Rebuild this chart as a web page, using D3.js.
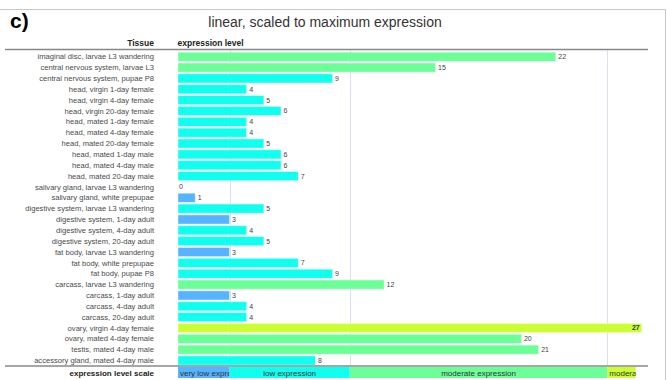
<!DOCTYPE html>
<html><head><meta charset="utf-8">
<script src="https://cdn.jsdelivr.net/npm/d3@7"></script>
<style>
body{margin:0;background:#fff;}
svg{font-family:"Liberation Sans",Arial,Helvetica,sans-serif;}
</style></head>
<body><svg id="c" width="667" height="380"></svg>
<script>
const tissues = [
 "imaginal disc, larvae L3 wandering","central nervous system, larvae L3","central nervous system, pupae P8",
 "head, virgin 1-day female","head, virgin 4-day female","head, virgin 20-day female",
 "head, mated 1-day female","head, mated 4-day female","head, mated 20-day female",
 "head, mated 1-day male","head, mated 4-day male","head, mated 20-day male",
 "salivary gland, larvae L3 wandering","salivary gland, white prepupae","digestive system, larvae L3 wandering",
 "digestive system, 1-day adult","digestive system, 4-day adult","digestive system, 20-day adult",
 "fat body, larvae L3 wandering","fat body, white prepupae","fat body, pupae P8",
 "carcass, larvae L3 wandering","carcass, 1-day adult","carcass, 4-day adult","carcass, 20-day adult",
 "ovary, virgin 4-day female","ovary, mated 4-day female","testis, mated 4-day male","accessory gland, mated 4-day male"];
const values = [22,15,9,4,5,6,4,4,5,6,6,7,0,1,5,3,4,5,3,7,9,12,3,4,4,27,20,21,8];
const levelNames = ["very low expression","low expression","moderate expression","moderately high expression"];
const levelBounds = [0,3,10,25,26.65];
const levelColors = ["#55b3ff","#11ffee","#6cff98","#ccff33"];
const maxValue = 27;

const svg = d3.select("#c");
// frame
svg.append("line").attr("x1",0).attr("x2",665.5).attr("y1",9.5).attr("y2",9.5).attr("stroke","#c8c8c8");
svg.append("line").attr("x1",665.5).attr("x2",665.5).attr("y1",9.5).attr("y2",380).attr("stroke","#c8c8c8");

svg.append("text").attr("x",10).attr("y",28).attr("font-size",21).attr("font-weight","bold").attr("fill","#000").text("c)");
svg.append("text").attr("x",325).attr("y",27).attr("text-anchor","middle").attr("font-size",14).attr("fill","#333")
  .text("linear, scaled to maximum expression");

const x = d3.scaleLinear().domain([0,maxValue]).range([178,641.7]);
const y = d3.scaleBand().domain(tissues).range([51.3,51.3+tissues.length*10.85]).paddingInner(0.16).paddingOuter(0.08);
const levelOf = v => { let i=0; while(i<levelBounds.length-2 && v>levelBounds[i+1]) i++; return i; };

// headers
svg.append("text").attr("x",154).attr("y",45.5).attr("text-anchor","end").attr("font-size",8.5).attr("font-weight","bold").attr("fill","#222").text("Tissue");
svg.append("text").attr("x",177.5).attr("y",45.5).attr("font-size",8.5).attr("font-weight","bold").attr("fill","#222").text("expression level");

// grid lines at level bounds
svg.append("g").selectAll("line").data(levelBounds.slice(1,4)).join("line")
  .attr("x1",d=>Math.round(x(d))+0.5).attr("x2",d=>Math.round(x(d))+0.5)
  .attr("y1",50).attr("y2",366).attr("stroke","#dcdcff").attr("stroke-width",1);

// row labels
svg.append("g").selectAll("text").data(tissues).join("text")
  .attr("x",154).attr("y",d=>y(d)+y.bandwidth()/2).attr("dy","0.35em")
  .attr("text-anchor","end").attr("font-size",7.6).attr("fill","#4a4a4a").text(d=>d);

// bars
const rows = tissues.map((t,i)=>({t,v:values[i]}));
svg.append("g").selectAll("rect").data(rows.filter(d=>d.v>0)).join("rect")
  .attr("x",x(0)).attr("y",d=>y(d.t)).attr("width",d=>x(d.v)-x(0)).attr("height",y.bandwidth())
  .attr("fill",d=>levelColors[levelOf(d.v)]).attr("stroke","#ffffff").attr("stroke-opacity",0.5).attr("stroke-width",0.8);

// value labels
svg.append("g").selectAll("text").data(rows).join("text")
  .attr("x",d=>d.v===maxValue ? x(d.v)-2 : (d.v===0 ? x(0)+1 : x(d.v)+2.5))
  .attr("y",d=>y(d.t)+y.bandwidth()/2).attr("dy","0.36em")
  .attr("text-anchor",d=>d.v===maxValue?"end":"start")
  .attr("font-size",7).attr("font-weight",d=>d.v===maxValue?"bold":"normal")
  .attr("fill",d=>d.v===maxValue?"#333":"#444").text(d=>d.v);

// header/footer lines
svg.append("line").attr("x1",5).attr("x2",648).attr("y1",49.5).attr("y2",49.5).attr("stroke","#888").attr("stroke-width",1.6);
svg.append("line").attr("x1",5).attr("x2",648).attr("y1",366).attr("y2",366).attr("stroke","#888").attr("stroke-width",1.6);

// scale
svg.append("text").attr("x",154).attr("y",376).attr("text-anchor","end").attr("font-size",8).attr("font-weight","bold").attr("fill","#222").text("expression level scale");
const defs = svg.append("defs");
const bands = levelNames.map((n,i)=>({n,i,x0:x(levelBounds[i]),x1:x(levelBounds[i+1])}));
bands.forEach(b=>defs.append("clipPath").attr("id","clip"+b.i).append("rect").attr("x",b.x0).attr("y",366).attr("width",b.x1-b.x0).attr("height",14));
const bg = svg.append("g").selectAll("g").data(bands).join("g");
bg.append("rect").attr("x",d=>d.x0).attr("y",367).attr("width",d=>d.x1-d.x0).attr("height",11).attr("fill",(d)=>levelColors[d.i]);
bg.append("text").attr("clip-path",d=>`url(#clip${d.i})`)
  .attr("font-size",8).attr("fill","#333").attr("y",375.5)
  .each(function(d){
    const el=d3.select(this).text(d.n);
    const w=this.getComputedTextLength();
    if(w>d.x1-d.x0-4){ el.attr("x",d.x0+2).attr("text-anchor","start"); }
    else { el.attr("x",(d.x0+d.x1)/2).attr("text-anchor","middle"); }
  });
</script></body></html>
